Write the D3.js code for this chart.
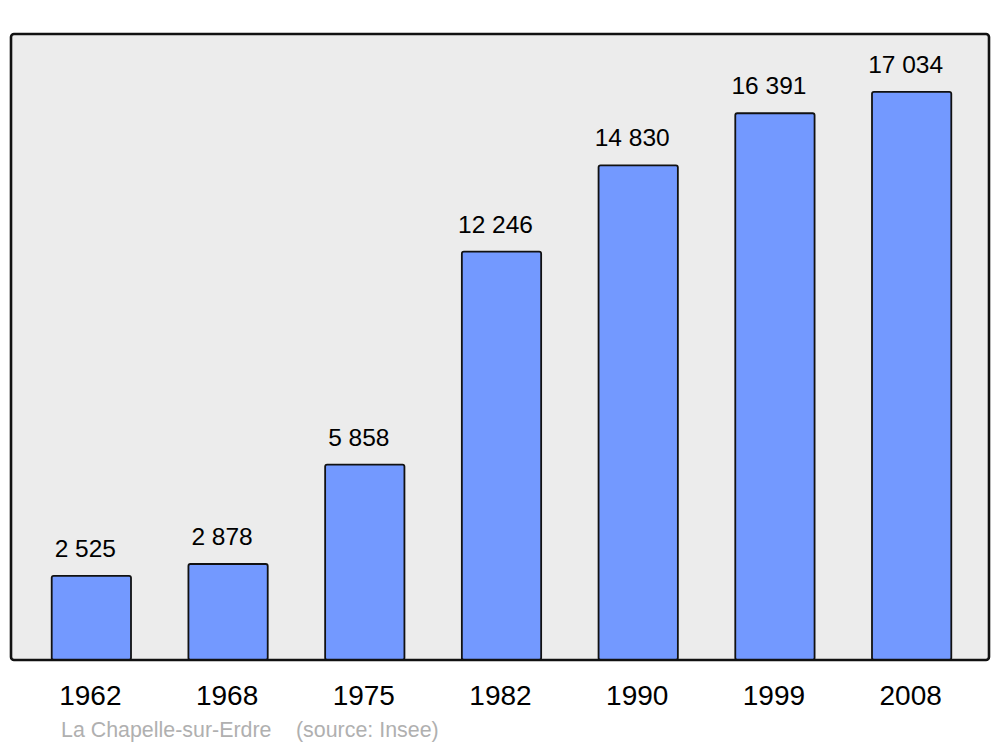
<!DOCTYPE html>
<html><head><meta charset="utf-8">
<script src="https://cdn.jsdelivr.net/npm/d3@7"></script>
<style>body{margin:0;background:#fff}svg{display:block}text{font-family:"Liberation Sans",Arial,sans-serif}</style>
</head><body>
<script>
const years = ["1962","1968","1975","1982","1990","1999","2008"];
const population = [2525, 2878, 5858, 12246, 14830, 16391, 17034];
const valueLabels = ["2 525","2 878","5 858","12 246","14 830","16 391","17 034"];
const caption = ["La Chapelle-sur-Erdre", "(source: Insee)"];

const W = 1000, H = 747;
const svg = d3.select("body").append("svg").attr("width", W).attr("height", H);

const x = d3.scaleBand().domain(years).range([23, 980]).paddingInner(0.42).paddingOuter(0.21);
const y = d3.scaleLinear().domain([0, d3.max(population) * 1.1]).range([660, 35]);

svg.append("rect").attr("x", 11).attr("y", 34).attr("width", 978).attr("height", 626)
  .attr("rx", 3).attr("fill", "#ececec").attr("stroke", "none");

svg.selectAll("rect.bar").data(population).enter().append("rect").attr("class","bar")
  .attr("x", (d,i) => x(years[i]))
  .attr("y", d => y(d))
  .attr("width", x.bandwidth())
  .attr("height", d => y(0) - y(d))
  .attr("rx", 2)
  .attr("fill", "#7399ff").attr("stroke", "#111").attr("stroke-width", 1.8);

svg.append("rect").attr("x", 11).attr("y", 34).attr("width", 978).attr("height", 626)
  .attr("rx", 3).attr("fill", "none").attr("stroke", "#111").attr("stroke-width", 2.6);

svg.selectAll("text.val").data(population).enter().append("text").attr("class","val")
  .attr("x", (d,i) => x(years[i]) + x.bandwidth()/2 - 6)
  .attr("y", d => y(d) - 19)
  .attr("text-anchor", "middle").attr("font-size", 24.5).attr("fill", "#000")
  .text((d,i) => valueLabels[i]);

const xAxis = d3.axisBottom(x).tickSize(0).tickPadding(0);
const g = svg.append("g").attr("transform", "translate(-1,705)").call(xAxis);
g.select(".domain").remove();
g.selectAll("text").attr("dy", 0).attr("font-size", 28).attr("fill", "#000")
  .style("font-family", '"Liberation Sans",Arial,sans-serif');

svg.append("text").attr("x", 61).attr("y", 737).attr("font-size", 21.4).attr("fill", "#b0b0b0").text(caption[0]);
svg.append("text").attr("x", 296).attr("y", 737).attr("font-size", 21.4).attr("fill", "#b0b0b0").text(caption[1]);
</script>
</body></html>
